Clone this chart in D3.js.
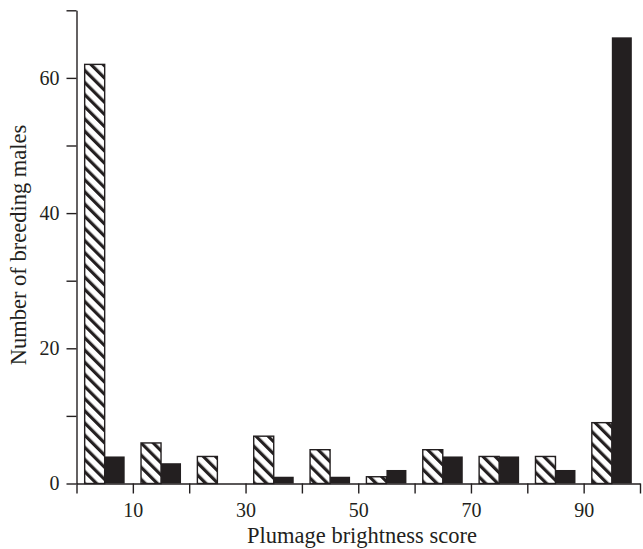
<!DOCTYPE html>
<html>
<head>
<meta charset="utf-8">
<script src="https://cdn.jsdelivr.net/npm/d3@7"></script>
<style>
  body { margin: 0; background: #fff; }
  text { font-family: "Liberation Serif", "DejaVu Serif", serif; fill: #231f20; }
</style>
</head>
<body>
<svg width="643" height="549"></svg>
<script>
let svg = d3.select("svg");

// bins of plumage brightness score (0-10, 10-20, ... 90-100)
let bins = [0, 10, 20, 30, 40, 50, 60, 70, 80, 90];
let hatchedCounts = [62, 6, 4, 7, 5, 1, 5, 4, 4, 9];
let solidCounts = [4, 3, 0, 1, 1, 2, 4, 4, 2, 66];
let xTickValues = [0, 10, 20, 30, 40, 50, 60, 70, 80, 90, 100];
let xTickLabels = [10, 30, 50, 70, 90];
let yTickValues = [0, 10, 20, 30, 40, 50, 60, 70];
let yTickLabels = [0, 20, 40, 60];

let xLeft = 76.5, xRight = 640, yTop = 10.3, yBottom = 483.5;
let ink = "#231f20";
let tickFont = "20px";
let titleFont = "22.5px";

let x = d3.scaleLinear().domain([0, 100]).range([xLeft, xRight]);
let xBand = d3.scaleBand().domain(bins).range([xLeft, xRight])
    .paddingInner(0.29).paddingOuter(0.145);
let y = d3.scaleLinear().domain([0, 70]).range([yBottom, yTop]);

let bw = xBand.bandwidth() / 2;

// hatch pattern
let defs = svg.append("defs");
let pat = defs.append("pattern")
    .attr("id", "hatch")
    .attr("patternUnits", "userSpaceOnUse")
    .attr("width", 8.6)
    .attr("height", 8.6)
    .attr("patternTransform", "rotate(-45)");
pat.append("rect").attr("width", 8.6).attr("height", 8.6).attr("fill", "#fff");
pat.append("rect").attr("x", 0).attr("y", 0).attr("width", 3.2).attr("height", 8.6).attr("fill", ink);

// hatched bars
svg.append("g").selectAll("rect")
    .data(bins)
    .join("rect")
    .attr("x", (d) => xBand(d))
    .attr("y", (d, i) => y(hatchedCounts[i]))
    .attr("width", bw)
    .attr("height", (d, i) => y(0) - y(hatchedCounts[i]))
    .attr("fill", "url(#hatch)")
    .attr("stroke", ink)
    .attr("stroke-width", 1.4);

// solid bars
svg.append("g").selectAll("rect")
    .data(bins.filter((d, i) => solidCounts[i] > 0))
    .join("rect")
    .attr("x", (d) => xBand(d) + bw)
    .attr("y", (d) => y(solidCounts[bins.indexOf(d)]))
    .attr("width", bw)
    .attr("height", (d) => y(0) - y(solidCounts[bins.indexOf(d)]))
    .attr("fill", ink);

// axes
let xAxis = svg.append("g")
    .attr("transform", `translate(0,${yBottom})`)
    .call(d3.axisBottom(x)
        .tickValues(xTickValues)
        .tickSize(10)
        .tickSizeOuter(0)
        .tickPadding(9)
        .tickFormat((d) => xTickLabels.includes(d) ? d : ""));

let yAxis = svg.append("g")
    .attr("transform", `translate(${xLeft},0)`)
    .call(d3.axisLeft(y)
        .tickValues(yTickValues)
        .tickSize(10)
        .tickSizeOuter(0)
        .tickPadding(7)
        .tickFormat((d) => yTickLabels.includes(d) ? d : ""));

[xAxis, yAxis].forEach((a) => {
    a.select(".domain").attr("stroke", ink).attr("stroke-width", 1.4);
    a.selectAll(".tick line").attr("stroke", ink).attr("stroke-width", 1.4);
    a.selectAll(".tick text").style("font-size", tickFont).attr("fill", ink);
});

// titles
svg.append("text")
    .attr("x", 362)
    .attr("y", 543)
    .attr("text-anchor", "middle")
    .style("font-size", titleFont)
    .text("Plumage brightness score");

svg.append("text")
    .attr("transform", "translate(26,245) rotate(-90)")
    .attr("text-anchor", "middle")
    .style("font-size", titleFont)
    .text("Number of breeding males");
</script>
</body>
</html>
